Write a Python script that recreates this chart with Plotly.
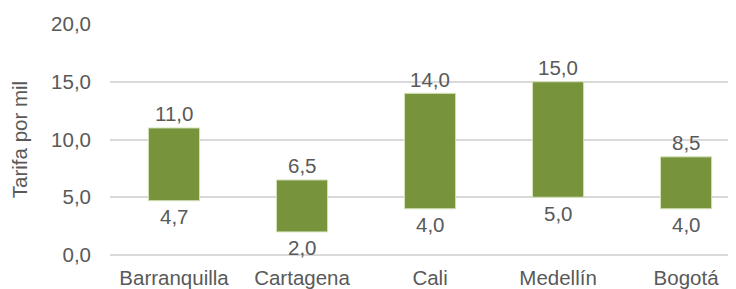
import plotly.graph_objects as go

categories = ["Barranquilla", "Cartagena", "Cali", "Medellín", "Bogotá"]
min_values = [4.7, 2.0, 4.0, 5.0, 4.0]
max_values = [11.0, 6.5, 14.0, 15.0, 8.5]
y_ticks = [0, 5, 10, 15, 20]

FONT = "Liberation Sans, Arial, sans-serif"
TXT = "#595959"
GREEN = "#77933C"
FS = 20.5

fig = go.Figure()
fig.add_trace(go.Bar(
    x=categories,
    base=min_values,
    y=[hi - lo for hi, lo in zip(max_values, min_values)],
    width=0.4,
    marker=dict(color=GREEN, line=dict(color="#D7E4BD", width=1)),
    hoverinfo="skip",
))

for c, v in zip(categories, max_values):
    fig.add_annotation(x=c, y=v, text=f"{v:.1f}".replace(".", ","),
                       showarrow=False, yanchor="middle", yshift=14,
                       font=dict(family=FONT, size=FS, color=TXT))
for c, v in zip(categories, min_values):
    fig.add_annotation(x=c, y=v, text=f"{v:.1f}".replace(".", ","),
                       showarrow=False, yanchor="middle", yshift=-16,
                       font=dict(family=FONT, size=FS, color=TXT))

fig.update_layout(
    width=728, height=281,
    margin=dict(l=102, r=0, t=16, b=34),
    paper_bgcolor="white", plot_bgcolor="white",
    separators=",.",
    showlegend=False,
    font=dict(family=FONT, size=FS, color=TXT),
    xaxis=dict(
        range=[-0.5, 4.39], showgrid=False, showline=False, zeroline=False,
        tickfont=dict(family=FONT, size=FS, color=TXT), ticks="",
        ticklabelstandoff=8, automargin=False,
    ),
    yaxis=dict(
        range=[0, 20], tickvals=y_ticks, tickformat=".1f",
        showgrid=True, gridcolor="#D9D9D9", gridwidth=1.5,
        zeroline=True, zerolinecolor="#D9D9D9", zerolinewidth=1.5,
        showline=False, ticks="", ticklabelstandoff=18, automargin=False,
        tickfont=dict(family=FONT, size=FS, color=TXT),
        title=dict(text="Tarifa por mil", standoff=28,
                   font=dict(family=FONT, size=FS, color=TXT)),
    ),
)

fig.write_html("out.html")
